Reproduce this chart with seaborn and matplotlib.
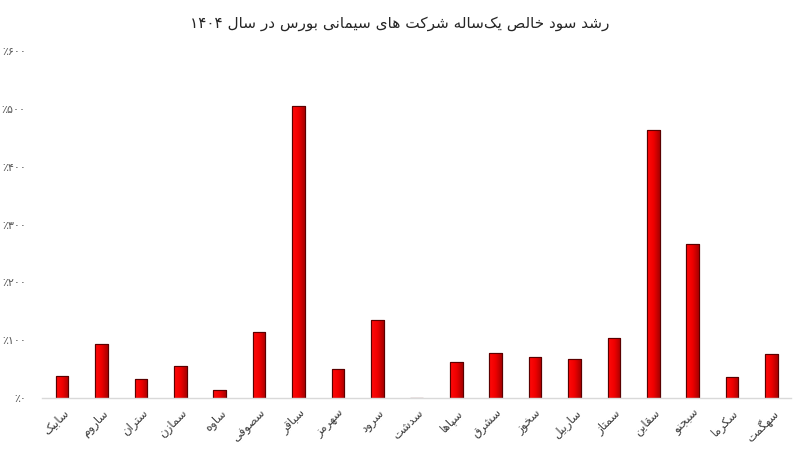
import numpy as np
import pandas as pd
import matplotlib
matplotlib.use('Agg')
import matplotlib.pyplot as plt
from matplotlib.ticker import FuncFormatter, MultipleLocator
from matplotlib.colors import LinearSegmentedColormap
import seaborn as sns

# ---- data ----
symbols = ['سابیک', 'ساروم', 'ستران', 'سمازن', 'ساوه', 'سصوفی', 'سباقر',
           'سهرمز', 'سرود', 'سدشت', 'سپاها', 'سشرق', 'سخوز', 'ساربیل',
           'سمتاز', 'سقاین', 'سبجنو', 'سکرما', 'سهگمت']
growth = [38, 93, 33, 56, 14, 114, 504, 50, 135, 1, 62, 78, 71, 68,
          104, 464, 266, 37, 77]
title_text = 'رشد سود خالص یک\u200cساله شرکت های سیمانی بورس در سال ۱۴۰۴'

# ---- minimal Persian shaping (matplotlib has no bidi / joining) ----
# letter: (isolated, final, initial, medial); 2-tuple = joins to the right only
FORMS = {
    'ا': (0xFE8D, 0xFE8E), 'د': (0xFEA9, 0xFEAA), 'ر': (0xFEAD, 0xFEAE),
    'ز': (0xFEAF, 0xFEB0), 'و': (0xFEED, 0xFEEE),
    'ب': (0xFE8F, 0xFE90, 0xFE91, 0xFE92), 'پ': (0xFB56, 0xFB57, 0xFB58, 0xFB59),
    'ت': (0xFE95, 0xFE96, 0xFE97, 0xFE98), 'ج': (0xFE9D, 0xFE9E, 0xFE9F, 0xFEA0),
    'خ': (0xFEA5, 0xFEA6, 0xFEA7, 0xFEA8), 'س': (0xFEB1, 0xFEB2, 0xFEB3, 0xFEB4),
    'ش': (0xFEB5, 0xFEB6, 0xFEB7, 0xFEB8), 'ص': (0xFEB9, 0xFEBA, 0xFEBB, 0xFEBC),
    'ف': (0xFED1, 0xFED2, 0xFED3, 0xFED4), 'ق': (0xFED5, 0xFED6, 0xFED7, 0xFED8),
    'ک': (0xFB8E, 0xFB8F, 0xFB90, 0xFB91), 'گ': (0xFB92, 0xFB93, 0xFB94, 0xFB95),
    'ل': (0xFEDD, 0xFEDE, 0xFEDF, 0xFEE0), 'م': (0xFEE1, 0xFEE2, 0xFEE3, 0xFEE4),
    'ن': (0xFEE5, 0xFEE6, 0xFEE7, 0xFEE8), 'ه': (0xFEE9, 0xFEEA, 0xFEEB, 0xFEEC),
    'ی': (0xFBFC, 0xFBFD, 0xFBFE, 0xFBFF),
}
PERSIAN_DIGITS = '۰۱۲۳۴۵۶۷۸۹'


def shape(text):
    out = []
    n = len(text)
    for i, ch in enumerate(text):
        if ch not in FORMS:
            out.append(ch)
            continue
        prev = text[i - 1] if i > 0 else ''
        nxt = text[i + 1] if i + 1 < n else ''
        joins_prev = prev in FORMS and len(FORMS[prev]) == 4
        joins_next = len(FORMS[ch]) == 4 and nxt in FORMS
        f = FORMS[ch]
        if joins_prev and joins_next:
            code = f[3]
        elif joins_prev:
            code = f[1]
        elif joins_next:
            code = f[2]
        else:
            code = f[0]
        out.append(chr(code))
    shaped = ''.join(c for c in out if c != '\u200c')
    # visual order: reverse, but keep digit runs left-to-right
    runs, cur, cur_dig = [], '', None
    for c in shaped:
        d = c in PERSIAN_DIGITS or c.isdigit()
        if cur and d != cur_dig:
            runs.append((cur, cur_dig))
            cur = ''
        cur += c
        cur_dig = d
    if cur:
        runs.append((cur, cur_dig))
    return ''.join(r if d else r[::-1] for r, d in reversed(runs))


def fa_percent(v, pos):
    s = str(int(round(abs(v))))
    sign = '-' if v < 0 else ''
    return '٪' + sign + ''.join(PERSIAN_DIGITS[int(c)] for c in s)


df = pd.DataFrame({'label': [shape(s) for s in symbols], 'growth': growth})

sns.set_theme(style='white')
plt.rcParams['font.family'] = ['DejaVu Sans']

fig = plt.figure(figsize=(8, 4.5), dpi=100)
ax = fig.add_axes([0.053, 0.115, 0.936, 0.772])

sns.barplot(data=df, x='label', y='growth', color='#e00000', width=0.32,
            edgecolor='#5a0000', linewidth=0.8, ax=ax)

# horizontal red gradient inside every bar (bright left, darker right)
cmap = LinearSegmentedColormap.from_list('bar', ['#ff0a0a', '#f00000', '#a80000'])
grad = np.linspace(0, 1, 64).reshape(1, -1)
for p in list(ax.patches):
    x0, y0 = p.get_x(), p.get_y()
    w, h = p.get_width(), p.get_height()
    if h <= 0:
        continue
    im = ax.imshow(grad, cmap=cmap, aspect='auto', extent=(x0, x0 + w, y0, y0 + h),
                   zorder=p.get_zorder() + 0.1, interpolation='bicubic')
    im.set_clip_path(p)
    ax.add_patch(plt.Rectangle((x0, y0), w, h, fill=False, edgecolor='#5a0000',
                               linewidth=0.8, zorder=p.get_zorder() + 0.2))

ax.set_xlim(-0.5, len(symbols) - 0.5)
ax.set_ylim(0, 600)
ax.yaxis.set_major_locator(MultipleLocator(100))
ax.yaxis.set_major_formatter(FuncFormatter(fa_percent))
ax.set_xlabel('')
ax.set_ylabel('')

for s in ['top', 'right', 'left']:
    ax.spines[s].set_visible(False)
ax.spines['bottom'].set_color('#d9d9d9')
ax.spines['bottom'].set_linewidth(1.0)
ax.grid(False)

ax.tick_params(axis='y', length=0, pad=12, labelsize=8, labelcolor='#595959')
ax.tick_params(axis='x', length=0, pad=6, labelsize=8.5, labelcolor='#404040')
plt.setp(ax.get_xticklabels(), rotation=45, ha='right', rotation_mode='anchor')

fig.suptitle(shape(title_text), y=0.965, fontsize=11, color='#262626')

plt.savefig('out.png', dpi=100)
plt.close()
